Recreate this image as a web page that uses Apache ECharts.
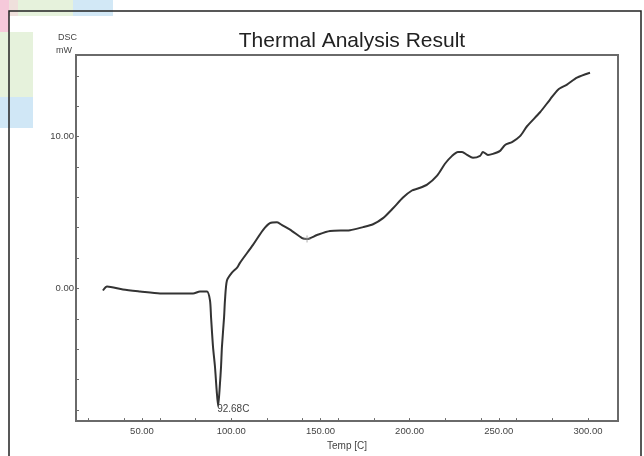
<!DOCTYPE html>
<html>
<head>
<meta charset="utf-8">
<script src="https://cdn.jsdelivr.net/npm/echarts@6/dist/echarts.min.js"></script>
<style>html,body{margin:0;padding:0;background:#fff}#c{width:644px;height:456px}</style>
</head>
<body>
<div id="c"></div>
<script>
// Temperature (°C) and DSC heat flow (mW)
var temps = [28.1, 30.4, 39.3, 48.9, 60.1, 78.6, 82.5, 86.4, 88.1, 88.7, 89.8, 90.9, 91.8, 92.68, 93.7, 94.3, 94.8, 96.0, 96.5, 97.6, 100.4, 103.3, 104.9, 112.2, 117.8, 121.7, 125.7, 128.5, 134.1, 139.7, 142.5, 148.1, 155.4, 166.6, 173.9, 179.5, 185.1, 190.7, 196.3, 201.3, 204.7, 209.8, 215.4, 219.8, 223.8, 227.1, 229.4, 232.2, 235.5, 239.5, 241.1, 243.9, 246.7, 250.7, 253.5, 257.4, 261.9, 265.8, 273.1, 278.7, 283.2, 288.2, 293.8, 301.1];
var dsc = [-0.13, 0.13, -0.07, -0.2, -0.33, -0.33, -0.2, -0.2, -0.78, -1.89, -3.84, -5.15, -6.64, -7.75, -6.25, -5.15, -3.84, -1.89, -0.78, 0.52, 1.04, 1.37, 1.69, 2.87, 3.84, 4.3, 4.36, 4.17, 3.78, 3.32, 3.26, 3.52, 3.78, 3.84, 4.04, 4.23, 4.63, 5.28, 5.99, 6.45, 6.58, 6.84, 7.43, 8.21, 8.73, 8.99, 8.99, 8.79, 8.6, 8.73, 8.99, 8.79, 8.86, 9.06, 9.45, 9.64, 10.03, 10.68, 11.6, 12.44, 13.09, 13.42, 13.88, 14.2];
var peakIndex = 13;
var peakLabel = '92.68C';
var crossMark = [142.5, 3.26];
var xTicks = [20, 40, 60, 80, 100, 120, 140, 160, 180, 200, 220, 240, 260, 280, 300, 50, 150, 250];
var xLabels = [50, 100, 150, 200, 250, 300];
var yTicks = [-8, -6, -4, -2, 0, 2, 4, 6, 8, 10, 12, 14];
var yLabels = [0, 10];
var titleText = 'Thermal Analysis Result';
var xName = 'Temp [C]';

var chart = echarts.init(document.getElementById('c'));
var lineData = temps.map(function (t, i) { return [t, dsc[i]]; });
var axisColor = '#6a6a6a';
var font = 'Liberation Sans, Arial, sans-serif';
chart.setOption({
  animation: false,
  backgroundColor: '#fff',
  title: {
    text: titleText, left: 347, top: 26, textAlign: 'center',
    textStyle: { fontSize: 21, fontWeight: 'normal', color: '#222', fontFamily: font }
  },
  graphic: [
    { type: 'rect', shape: { x: 0, y: 0, width: 9, height: 32 }, style: { fill: '#f6c9da' }, silent: true },
    { type: 'rect', shape: { x: 9, y: 0, width: 9, height: 16 }, style: { fill: '#efe0dc' }, silent: true },
    { type: 'rect', shape: { x: 18, y: 0, width: 55, height: 16 }, style: { fill: '#e6f2dc' }, silent: true },
    { type: 'rect', shape: { x: 73, y: 0, width: 40, height: 16 }, style: { fill: '#d2e8f6' }, silent: true },
    { type: 'rect', shape: { x: 0, y: 32, width: 33, height: 65 }, style: { fill: '#e6f2dc' }, silent: true },
    { type: 'rect', shape: { x: 0, y: 97, width: 33, height: 31 }, style: { fill: '#d0e7f6' }, silent: true },
    { type: 'rect', shape: { x: 9, y: 11, width: 632, height: 470 }, style: { fill: 'none', stroke: '#222', lineWidth: 1.5 }, silent: true },
    { type: 'text', left: 58, top: 33, style: { text: 'DSC', fontSize: 9, fill: '#444', fontFamily: font }, silent: true },
    { type: 'text', left: 56, top: 46, style: { text: 'mW', fontSize: 9, fill: '#444', fontFamily: font }, silent: true }
  ],
  grid: {
    left: 76, top: 55, right: 26, bottom: 31,
    show: true, borderColor: axisColor, borderWidth: 2, backgroundColor: 'transparent'
  },
  xAxis: {
    type: 'value', min: 13, max: 316.8,
    name: xName, nameLocation: 'middle', nameGap: 17,
    nameTextStyle: { fontSize: 10, color: '#444', fontFamily: font, verticalAlign: 'top' },
    axisLine: { show: true, onZero: false, lineStyle: { color: axisColor, width: 2 } },
    axisTick: { show: true, inside: true, length: 3, customValues: xTicks, lineStyle: { color: axisColor } },
    axisLabel: {
      customValues: xLabels, margin: 5, fontSize: 9.5, color: '#444', fontFamily: font,
      formatter: function (v) { return v.toFixed(2); }
    },
    splitLine: { show: false }
  },
  yAxis: {
    type: 'value', min: -8.73, max: 15.37,
    axisLine: { show: true, onZero: false, lineStyle: { color: axisColor, width: 2 } },
    axisTick: { show: true, inside: true, length: 3, customValues: yTicks, lineStyle: { color: axisColor } },
    axisLabel: {
      customValues: yLabels, margin: 2, fontSize: 9.5, color: '#444', fontFamily: font,
      formatter: function (v) { return v.toFixed(2); }
    },
    splitLine: { show: false }
  },
  series: [
    {
      type: 'line', data: lineData, smooth: 0.25, symbol: 'none', showSymbol: false,
      lineStyle: { color: '#333', width: 2 }, z: 3,
      markPoint: {
        symbol: 'rect', symbolSize: 0.1, silent: true,
        itemStyle: { color: 'transparent' },
        data: [{
          coord: lineData[peakIndex],
          label: {
            show: true, formatter: peakLabel, position: 'bottom', distance: 0,
            align: 'left', offset: [-1, -2], fontSize: 10, color: '#444', fontFamily: font
          }
        }]
      }
    },
    {
      type: 'scatter', data: [crossMark], symbol: 'path://M5,0 L5,10 M0,5 L10,5', symbolSize: 7,
      itemStyle: { color: 'none', borderColor: '#999', borderWidth: 1 }, z: 4
    }
  ]
});
</script>
</body>
</html>
